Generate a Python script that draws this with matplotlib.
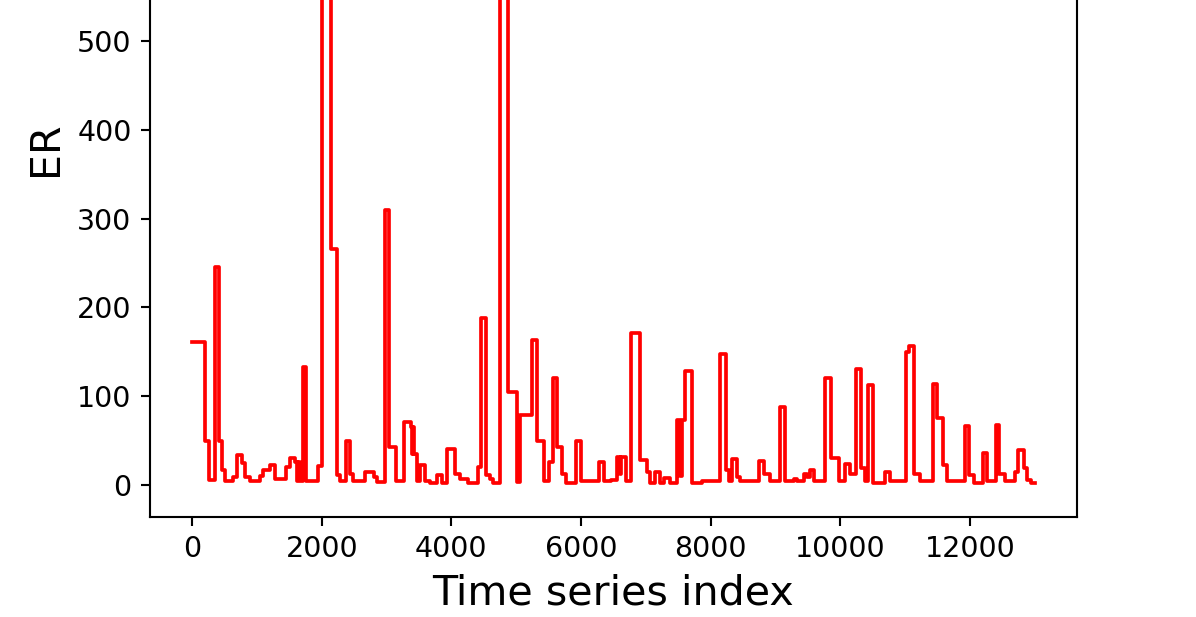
import numpy as np
import matplotlib
matplotlib.use("Agg")
import matplotlib.pyplot as plt

# step start index and ER value of each step
seg_start = [
    0, 195, 255, 350, 410, 455, 505, 635, 690, 765, 815, 890, 1045, 1100,
    1200, 1280, 1455, 1510, 1585, 1620, 1640, 1660, 1705, 1760, 1950, 2005,
    2142, 2235, 2285, 2370, 2440, 2490, 2670, 2800, 2850, 2975, 3040, 3140,
    3265, 3370, 3395, 3410, 3430, 3465, 3520, 3590, 3670, 3775, 3850, 3930,
    4057, 4135, 4263, 4417, 4450, 4536, 4598, 4650, 4753, 4877, 5015, 5067,
    5250, 5324, 5427, 5504, 5570, 5633, 5710, 5762, 5925, 5995, 6277, 6354,
    6457, 6560, 6600, 6620, 6689, 6780, 6914, 7017, 7069, 7146, 7223, 7275,
    7378, 7480, 7530, 7555, 7598, 7720, 7868, 8145, 8235, 8280, 8330, 8408,
    8459, 8742, 8820, 8923, 9070, 9155, 9280, 9330, 9436, 9488, 9540, 9591,
    9765, 9855, 9977, 10080, 10157, 10237, 10315, 10390, 10425, 10500, 10698,
    10775, 11011, 11060, 11135, 11238, 11430, 11490, 11590, 11650, 11920,
    11985, 12062, 12197, 12262, 12400, 12455, 12541, 12696, 12747, 12840,
    12880, 12943,
]
er_value = [
    161, 49, 6, 246, 49, 17, 4, 9, 34, 25, 9, 4, 10, 17,
    23, 7, 20, 30, 26, 5, 26, 4, 133, 4, 21, 700,
    266, 11, 4, 49, 12, 4, 15, 9, 3, 310, 43, 4,
    71, 65, 35, 65, 35, 4, 22, 5, 2, 11, 2.6, 40,
    12, 7, 2.6, 20, 188, 11, 7, 2.6, 756, 105, 3, 79,
    163, 49, 4, 26, 120, 43, 12, 2.6, 49, 4, 26, 4,
    5.6, 32, 12, 32, 4, 171, 28, 15, 2.6, 15, 2.6, 7.5,
    2.6, 73, 10, 73, 128, 2.6, 4, 148, 17, 4, 29, 9,
    4, 27, 12, 4, 88, 4, 7, 4, 12, 9, 17, 4,
    120, 30, 4, 24, 12, 131, 19, 4, 113, 2.6, 15,
    4, 150, 156, 12, 4, 114, 75, 22.5, 4, 66,
    11, 2.6, 36, 4, 68, 12, 4, 15, 39, 19,
    5.6, 2.6,
]
last_index = 13000

x = np.array(seg_start + [last_index], dtype=float)
y = np.array(er_value + [er_value[-1]], dtype=float)

dpi = 190
fig = plt.figure(figsize=(1196 / dpi, 617 / dpi), dpi=dpi)
ax = fig.add_axes([150 / 1196, 0.1626, 926.7 / 1196, 1.1937])

ax.step(x, y, where="post", color="red", linewidth=1.4)

ax.set_xlabel("Time series index", fontsize=15.6)
ax.set_ylabel("ER", fontsize=15.6)
ax.tick_params(labelsize=10.8)

fig.savefig("out.png", dpi=dpi)
